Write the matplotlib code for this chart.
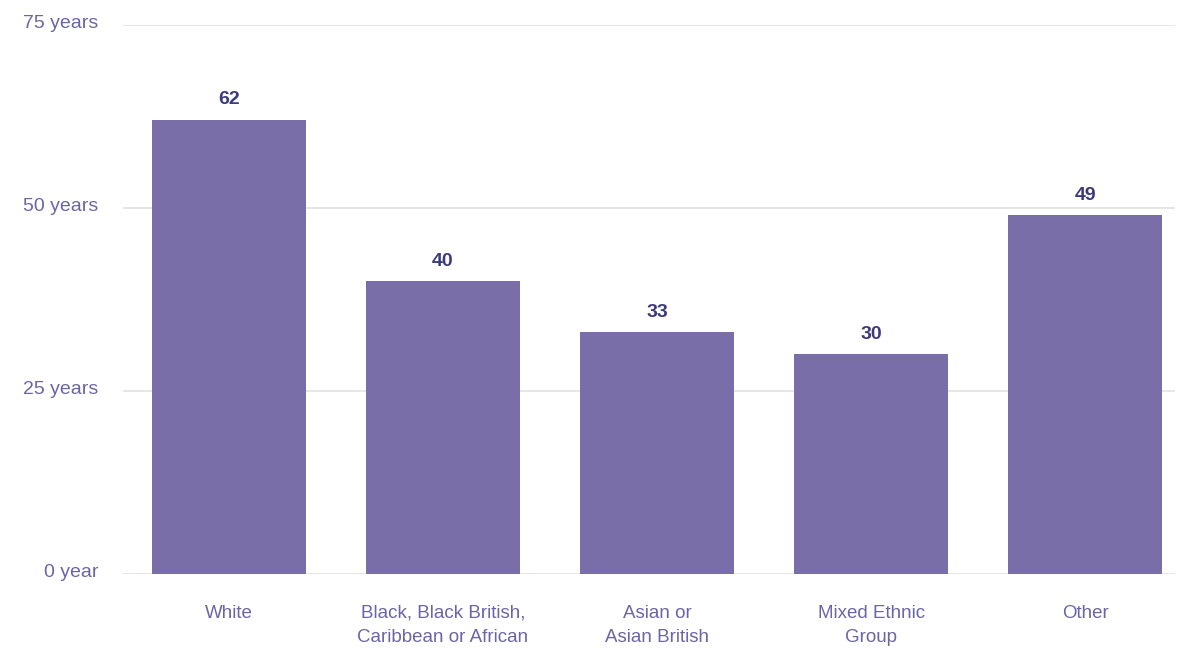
import matplotlib.pyplot as plt
import matplotlib.transforms as mtransforms

categories = ['White', 'Black, Black British,\nCaribbean or African', 'Asian or\nAsian British',
              'Mixed Ethnic\nGroup', 'Other']
values = [62, 40, 33, 30, 49]
y_ticks = [0, 25, 50, 75]
y_tick_labels = ['0 year', '25 years', '50 years', '75 years']

bar_color = '#7a6ea8'
tick_color = '#6a66a6'
label_color = '#3d3a7c'

plt.rcParams['font.family'] = ['Liberation Sans', 'DejaVu Sans']

fig = plt.figure(figsize=(11.84, 6.5), dpi=100)
ax = fig.add_axes([0.1039, 0.1169, 0.8885, 0.8446])

x = range(len(categories))
bars = ax.bar(x, values, width=0.72, color=bar_color, zorder=3)

for b, v in zip(bars, values):
    ax.text(b.get_x() + b.get_width() / 2, v + 1.6, str(v), ha='center', va='bottom',
            fontsize=14, fontweight='bold', color=label_color)

ax.set_xlim(-0.495, 4.42)
ax.set_ylim(0, 75)
ax.set_yticks(y_ticks)
ax.set_yticklabels(y_tick_labels)
ax.set_xticks(list(x))
ax.set_xticklabels(categories, linespacing=1.55)

ax.tick_params(axis='y', length=0, pad=18, labelsize=14, labelcolor=tick_color)
ax.tick_params(axis='x', length=0, pad=22, labelsize=13.5, labelcolor=tick_color)

# y labels sit a little above their gridlines
shift = mtransforms.ScaledTranslation(0, 4 / 100, fig.dpi_scale_trans)
for lbl in ax.get_yticklabels():
    lbl.set_transform(lbl.get_transform() + shift)

ax.grid(axis='y', color='#e4e4e4', linewidth=1.3, zorder=0)
for s in ax.spines.values():
    s.set_visible(False)

fig.savefig('out.png', dpi=100)
